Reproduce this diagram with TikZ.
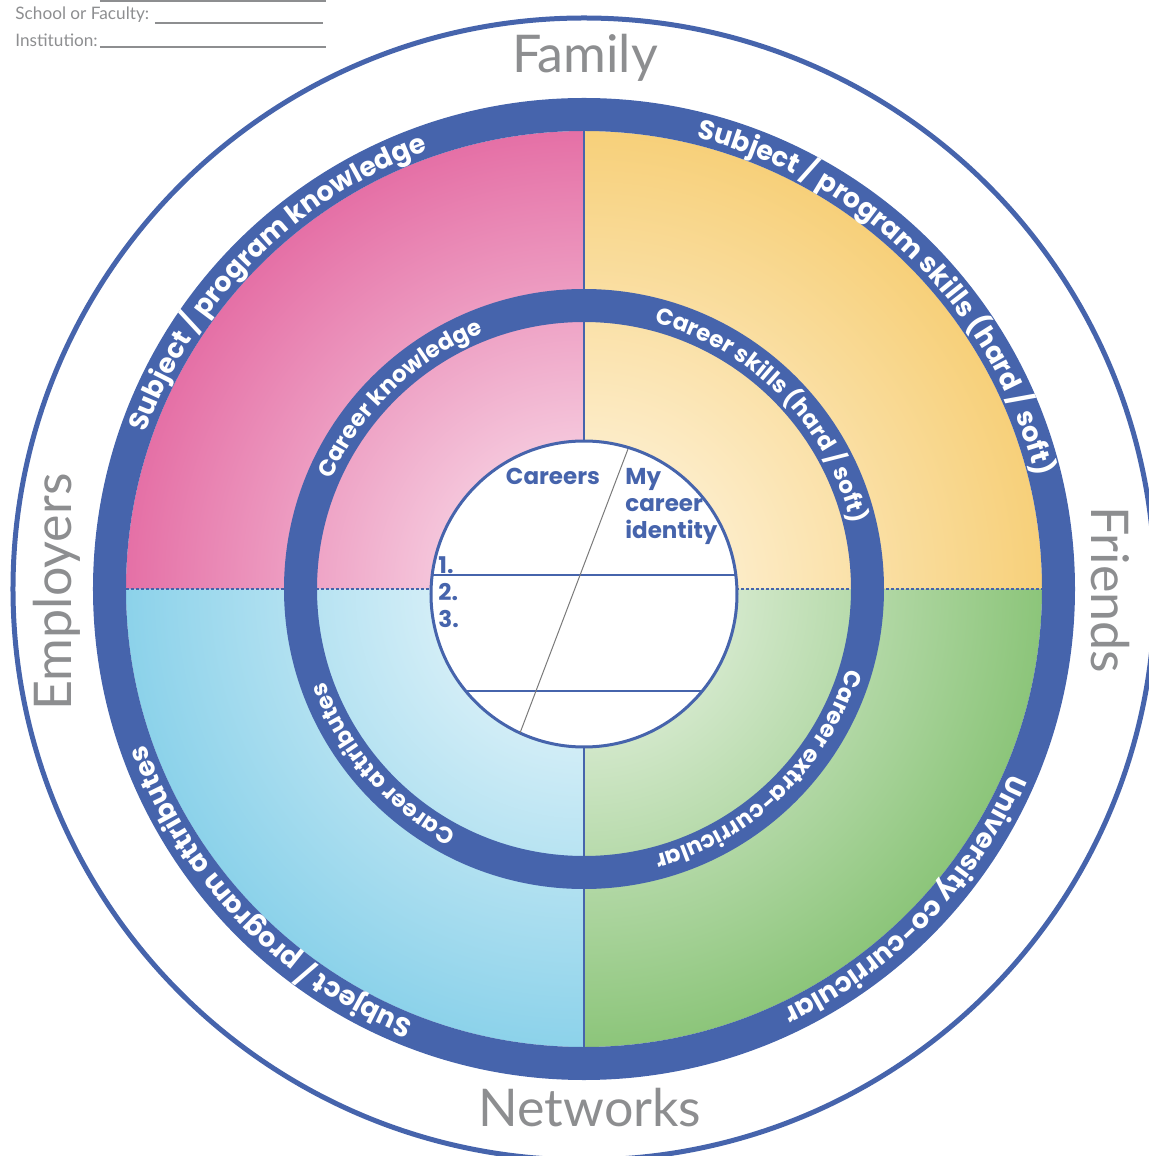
\documentclass[tikz,border=0pt]{standalone}
\usepackage{fontspec}
\setmainfont{Lato}
\newfontfamily\ringfont{Poppins}
\usetikzlibrary{decorations.text}

\definecolor{ringblue}{HTML}{4664AC}
\definecolor{labelgray}{HTML}{8D8E90}
\definecolor{slashgray}{HTML}{7A7A7A}
\definecolor{pinkout}{HTML}{E570A6}
\definecolor{pinkin}{HTML}{FCEEF4}
\definecolor{yellowout}{HTML}{F7D07A}
\definecolor{yellowin}{HTML}{FFF9EC}
\definecolor{blueout}{HTML}{8CD2EA}
\definecolor{bluein}{HTML}{F5FBFD}
\definecolor{greenout}{HTML}{8CC57A}
\definecolor{greenin}{HTML}{F5F9F2}

\tikzset{
  outertext/.style={decoration={text along path, text align=center,
      text={|\ringfont\bfseries\fontsize{13.5}{13.5}\selectfont\color{white}|#1}}, decorate},
  innertext/.style={decoration={text along path, text align=center,
      text={|\ringfont\bfseries\fontsize{11.5}{11.5}\selectfont\color{white}|#1}}, decorate},
  worldlabel/.style={text=labelgray, font=\fontsize{26}{26}\selectfont, inner sep=0pt},
  headlabel/.style={text=labelgray, font=\fontsize{8.6}{10}\selectfont, inner sep=0pt, anchor=west},
  corelabel/.style={text=ringblue, font=\ringfont\bfseries\fontsize{11.5}{13.5}\selectfont, inner sep=0pt},
  blankline/.style={labelgray, line width=0.6pt}
}

\begin{document}
\begin{tikzpicture}[x=0.5pt, y=0.5pt]

\useasboundingbox (-584,-567) rectangle (565,589);

% header lines
\draw [blankline] (-484,588) -- (-258,588);
\node [headlabel] (faculty) at (-569,574) {School or Faculty:};
\draw [blankline] (-429,566) -- (-261,566);
\node [headlabel] (institution) at (-569,549) {Institution:};
\draw [blankline] (-484,542) -- (-258,542);

% outer thin circle
\draw [ringblue, line width=2.5pt] (0,0) circle (571);

% quadrants
\begin{scope}
  \clip (0,0) -- (90:458) arc[start angle=90, end angle=180, radius=458] -- cycle;
  \shade [inner color=pinkin, outer color=pinkout] (0,0) circle (458);
\end{scope}
\begin{scope}
  \clip (0,0) -- (0:458) arc[start angle=0, end angle=90, radius=458] -- cycle;
  \shade [inner color=yellowin, outer color=yellowout] (0,0) circle (458);
\end{scope}
\begin{scope}
  \clip (0,0) -- (180:458) arc[start angle=180, end angle=270, radius=458] -- cycle;
  \shade [inner color=bluein, outer color=blueout] (0,0) circle (458);
\end{scope}
\begin{scope}
  \clip (0,0) -- (270:458) arc[start angle=270, end angle=360, radius=458] -- cycle;
  \shade [inner color=greenin, outer color=greenout] (0,0) circle (458);
\end{scope}

\draw [ringblue, line width=0.6pt] (0,-458) -- (0,458);
\draw [ringblue, line width=0.6pt, dash pattern=on 1.5pt off 1pt] (-458,0) -- (458,0);

% rings
\draw [ringblue, line width=16.5pt] (0,0) circle (474.5);
\draw [ringblue, line width=16.5pt] (0,0) circle (283.5);

% ring texts
\path [outertext={Subject / program knowledge}] (175:465) arc[start angle=175, end angle=95, radius=465];
\path [outertext={Subject / program skills (hard / soft)}] (90:465) arc[start angle=90, end angle=0, radius=465];
\path [outertext={University co-curricular}] (-4:465) arc[start angle=-4, end angle=-84, radius=465];
\path [outertext={Subject / program attributes}] (264:465) arc[start angle=264, end angle=184, radius=465];

\path [innertext={Career knowledge}] (179:275) arc[start angle=179, end angle=89, radius=275];
\path [innertext={Career skills (hard / soft)}] (89:275) arc[start angle=89, end angle=0, radius=275];
\path [innertext={Career extra-curricular}] (-2:275) arc[start angle=-2, end angle=-90, radius=275];
\path [innertext={Career attributes}] (266:275) arc[start angle=266, end angle=176, radius=275];

% core circle
\node [circle, draw=ringblue, fill=white, line width=1.5pt, minimum size=153pt, inner sep=0pt] (core) at (0,-5) {};
\begin{scope}
  \clip (core.center) circle (153);
  \draw [ringblue, line width=0.8pt] (-160,14) -- (160,14);
  \draw [ringblue, line width=0.8pt] (-160,-102) -- (160,-102);
\end{scope}
\coordinate (slashtop) at (44,140);
\coordinate (slashbot) at (-64,-144);
\draw [slashgray, line width=0.5pt] (slashtop) -- (slashbot);

\node [corelabel] (careers) at (-31,113) {Careers};
\node [corelabel, align=left, anchor=north west] (identity) at (41,121) {My\\career\\identity};
\node [corelabel, anchor=west] (first) at (-146,24) {1.};
\node [corelabel, anchor=west] (second) at (-146,-3) {2.};
\node [corelabel, anchor=west] (third) at (-146,-30) {3.};

% world labels
\node [worldlabel] (family) at (1,531) {Family};
\node [worldlabel] (networks) at (6,-519) {Networks};
\node [worldlabel, rotate=90] (employers) at (-527,-3) {Employers};
\node [worldlabel, rotate=-90] (friends) at (526,-1) {Friends};

\end{tikzpicture}
\end{document}
